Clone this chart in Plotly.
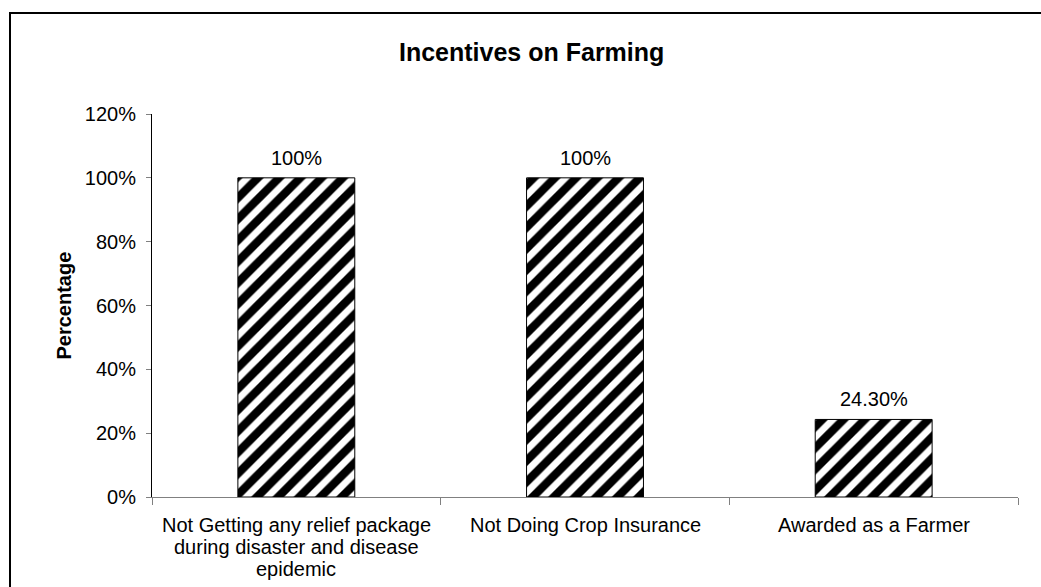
import plotly.graph_objects as go

# Survey results: share of farmers in each incentive category
categories = [
    "Not Getting any relief package<br>during disaster and disease<br>epidemic",
    "Not Doing Crop Insurance",
    "Awarded as a Farmer",
]
percentages = [100.0, 100.0, 24.3]
y_ticks = [0, 20, 40, 60, 80, 100, 120]

FONT = "Arial, Liberation Sans, sans-serif"

# plot-area geometry in pixels
W, H = 1041, 587
L, R, T, B = 152, 23, 114, 90
pw, ph = W - L - R, H - T - B


def px_x(x):
    return (x - L) / pw


def px_y(y):
    return (H - B - y) / ph


values = [p / 100 for p in percentages]
labels = [f"{p:.0f}%" if float(p).is_integer() else f"{p:.2f}%" for p in percentages]

fig = go.Figure(
    go.Bar(
        x=categories,
        y=values,
        width=0.405,
        marker=dict(
            color="white",
            line=dict(color="black", width=1),
            pattern=dict(shape="/", fgcolor="black", bgcolor="white", fgopacity=1,
                         size=15, solidity=0.55),
        ),
        hoverinfo="skip",
    )
)

# value labels above each bar
for cat, v, lab in zip(categories, values, labels):
    fig.add_annotation(
        x=cat, y=v, text=lab, showarrow=False, yanchor="middle", yshift=20,
        font=dict(family=FONT, size=20, color="black"),
    )

# category labels under the axis, one line at a time for tighter line spacing
for cat in categories:
    for i, line in enumerate(cat.split("<br>")):
        fig.add_annotation(
            x=cat, y=0, yref="paper", text=line, showarrow=False,
            xanchor="center", yanchor="middle", yshift=-(28 + 22 * i),
            font=dict(family=FONT, size=20, color="black"),
        )

# chart title
fig.add_annotation(
    xref="paper", yref="paper", x=px_x(531), y=px_y(52), text="<b>Incentives on Farming</b>",
    showarrow=False, xanchor="center", yanchor="middle",
    font=dict(family=FONT, size=25, color="black"),
)

# y-axis title
fig.add_annotation(
    xref="paper", yref="paper", x=px_x(63), y=0.5, text="<b>Percentage</b>",
    showarrow=False, textangle=-90, xanchor="center", yanchor="middle",
    font=dict(family=FONT, size=20, color="black"),
)

# outer chart border
fig.add_shape(
    type="rect", xref="paper", yref="paper",
    x0=px_x(10), y0=px_y(640), x1=px_x(1100), y1=px_y(13),
    line=dict(color="black", width=2), fillcolor="rgba(0,0,0,0)", layer="above",
)

fig.update_layout(
    width=W, height=H,
    margin=dict(l=L, r=R, t=T, b=B),
    paper_bgcolor="white", plot_bgcolor="white",
    showlegend=False,
    font=dict(family=FONT, size=20, color="black"),
    xaxis=dict(
        automargin=False,
        showline=True, linecolor="#808080", linewidth=1,
        ticks="outside", tickson="boundaries", ticklen=7, tickcolor="#808080",
        showticklabels=False,
        showgrid=False, zeroline=False,
    ),
    yaxis=dict(
        automargin=False,
        range=[0, 1.2], tickvals=[t / 100 for t in y_ticks],
        ticktext=[f"{t}%" for t in y_ticks],
        showline=True, linecolor="black", linewidth=1,
        ticks="outside", ticklen=5, tickcolor="#808080",
        ticklabelstandoff=6,
        tickfont=dict(family=FONT, size=20, color="black"),
        showgrid=False, zeroline=False,
    ),
)

fig.write_html("out.html")
